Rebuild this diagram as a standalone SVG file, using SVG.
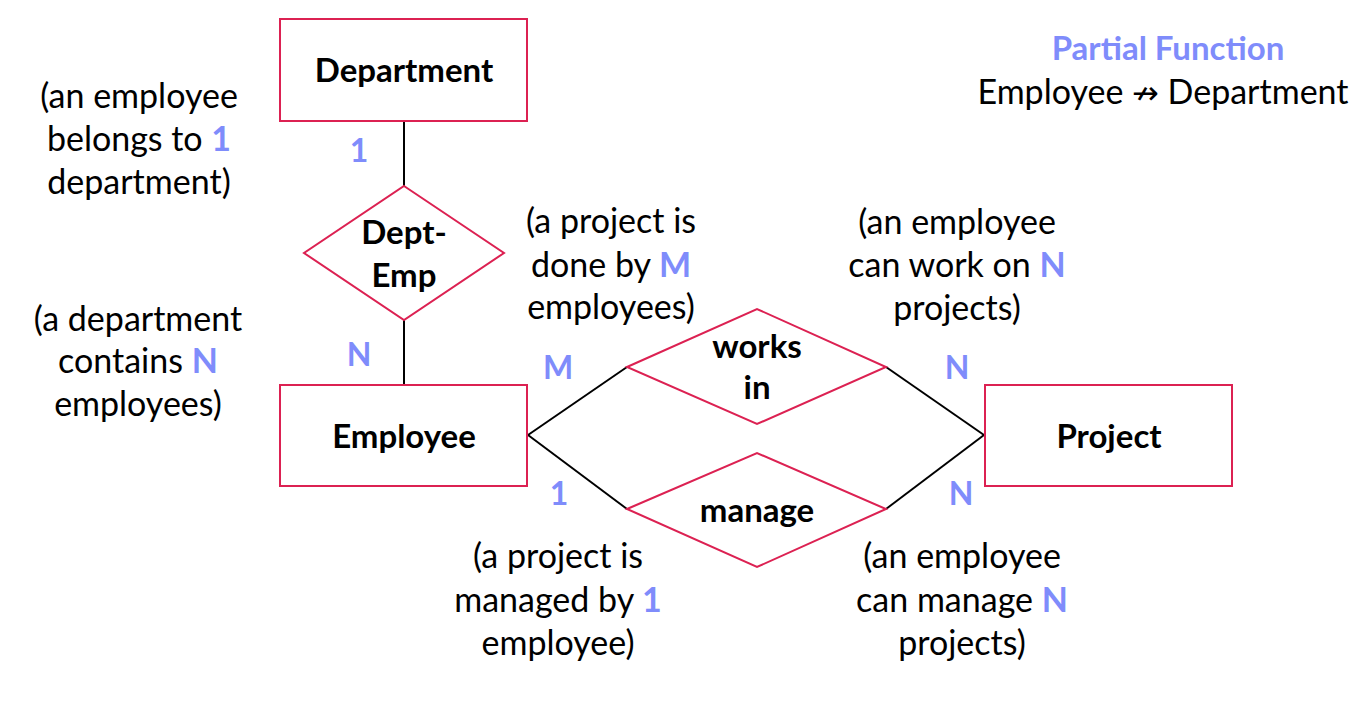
<svg xmlns="http://www.w3.org/2000/svg" width="1366" height="708" viewBox="0 0 1366 708">
<style>
.box{fill:#fff;stroke:#DC2152;stroke-width:2}
.line{stroke:#000;stroke-width:2;fill:none}
.t{font-family:Lato,"Liberation Sans",sans-serif;font-size:34px;fill:#000;text-anchor:middle}
.b{font-family:Lato,"Liberation Sans",sans-serif;font-size:33px;font-weight:bold;fill:#000;text-anchor:middle}
.c{font-family:Lato,"Liberation Sans",sans-serif;font-size:32px;font-weight:bold;fill:#7F8CFB;text-anchor:middle}
.p{font-family:Lato,"Liberation Sans",sans-serif;font-size:33px;font-weight:bold;fill:#7F8CFB;text-anchor:middle}
.hl{font-weight:bold;fill:#7F8CFB}
.arr{font-family:"DejaVu Sans",sans-serif;font-size:32px}
</style>
<rect width="1366" height="708" fill="#fff"/>
<g id="connectors">
<line class="line" x1="404" y1="121" x2="404" y2="186"/>
<line class="line" x1="404" y1="320" x2="404" y2="385"/>
<line class="line" x1="528" y1="435" x2="627" y2="367"/>
<line class="line" x1="528" y1="435" x2="627" y2="509"/>
<line class="line" x1="886" y1="367" x2="984" y2="435"/>
<line class="line" x1="886" y1="509" x2="984" y2="435"/>
<text class="c" x="359" y="162">1</text>
<text class="c" x="359" y="366">N</text>
<text class="c" x="558" y="379">M</text>
<text class="c" x="957" y="379">N</text>
<text class="c" x="559" y="505">1</text>
<text class="c" x="961" y="505">N</text>
</g>
<g id="department">
<rect class="box" x="280" y="19" width="247" height="102"/>
<text class="b" x="404" y="82">Department</text>
</g>
<g id="dept-emp">
<polygon class="box" points="404,186 504,253 404,320 304,253"/>
<text class="b" x="404" y="244">Dept-</text>
<text class="b" x="404" y="287">Emp</text>
</g>
<g id="employee">
<rect class="box" x="280" y="385" width="247" height="101"/>
<text class="b" x="404" y="448">Employee</text>
</g>
<g id="works-in">
<polygon class="box" points="627,367 757,309 886,367 757,424"/>
<text class="b" x="757" y="358">works</text>
<text class="b" x="757" y="399">in</text>
</g>
<g id="manage">
<polygon class="box" points="627,509 757,453 886,509 757,567"/>
<text class="b" x="757" y="522">manage</text>
</g>
<g id="project">
<rect class="box" x="985" y="385" width="247" height="101"/>
<text class="b" x="1109" y="448">Project</text>
</g>
<g id="notes">
<text class="t" x="139" y="108">(an employee</text>
<text class="t" x="139" y="151">belongs to <tspan class="hl">1</tspan></text>
<text class="t" x="139" y="194">department)</text>
<text class="t" x="138" y="331">(a department</text>
<text class="t" x="138" y="373">contains <tspan class="hl">N</tspan></text>
<text class="t" x="138" y="416">employees)</text>
<text class="t" x="611" y="233">(a project is</text>
<text class="t" x="611" y="277">done by <tspan class="hl">M</tspan></text>
<text class="t" x="611" y="319">employees)</text>
<text class="t" x="957" y="234">(an employee</text>
<text class="t" x="957" y="277">can work on <tspan class="hl">N</tspan></text>
<text class="t" x="957" y="320">projects)</text>
<text class="t" x="558" y="568">(a project is</text>
<text class="t" x="558" y="612">managed by <tspan class="hl">1</tspan></text>
<text class="t" x="558" y="655">employee)</text>
<text class="t" x="962" y="568">(an employee</text>
<text class="t" x="962" y="612">can manage <tspan class="hl">N</tspan></text>
<text class="t" x="962" y="655">projects)</text>
<text class="p" x="1168" y="60">Partial Function</text>
<text class="t" x="1163" y="104">Employee <tspan class="arr">↛</tspan> Department</text>
</g>
</svg>
